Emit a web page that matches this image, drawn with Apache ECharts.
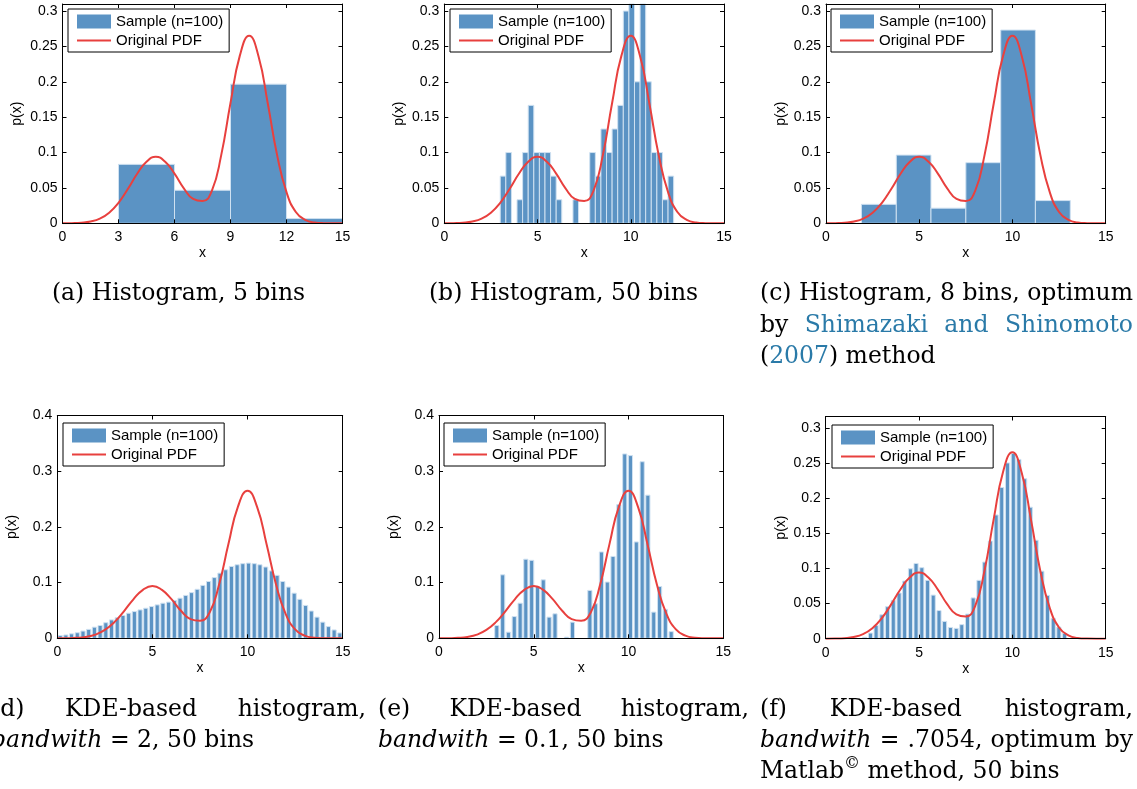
<!DOCTYPE html>
<html>
<head>
<meta charset="utf-8">
<script src="https://cdn.jsdelivr.net/npm/echarts@6/dist/echarts.min.js"></script>
<style>
  html, body { margin: 0; padding: 0; background: #ffffff; }
  #chart { width: 1137px; height: 789px; }
</style>
</head>
<body>
<div id="chart"></div>
<script>
// ---------------- data ----------------
// Original bimodal PDF, sampled along x
const pdfX = [0, 0.5, 1, 1.5, 2, 2.5, 3, 3.5, 4, 4.5, 5, 5.5, 6, 6.5, 7, 7.5,
              8, 8.5, 9, 9.5, 10, 10.5, 11, 11.5, 12, 12.5, 13, 13.5, 14, 14.5, 15];
const pdfY = [0.0000, 0.0002, 0.0008, 0.0025, 0.0066, 0.0150, 0.0290, 0.0485, 0.0700, 0.0870,
              0.0940, 0.0870, 0.0702, 0.0495, 0.0345, 0.0315, 0.0460, 0.0960, 0.1700, 0.2370,
              0.2650, 0.2360, 0.1690, 0.0960, 0.0440, 0.0160, 0.0048, 0.0011, 0.0002, 0.0000, 0.0000];

// (a) histogram, 5 bins
const aEdges = [0, 3, 6, 9, 12, 15];
const aDensity = [0, 0.0833, 0.0467, 0.1967, 0.0067];

// (b) histogram, 50 bins (occupied range)
const bEdges = [3.0, 3.3, 3.6, 3.9, 4.2, 4.5, 4.8, 5.1, 5.4, 5.7, 6.0, 6.3, 6.6, 6.9, 7.2, 7.5,
                7.8, 8.1, 8.4, 8.7, 9.0, 9.3, 9.6, 9.9, 10.2, 10.5, 10.8, 11.1, 11.4, 11.7, 12.0, 12.3];
const bDensity = [0.0667, 0.1000, 0, 0.0333, 0.1000, 0.1667, 0.1000, 0.1000, 0.1000, 0.0667,
                  0.0333, 0, 0, 0.0333, 0, 0, 0.1000, 0.0667, 0.1333, 0.1000,
                  0.1333, 0.1667, 0.3000, 0.3667, 0.2000, 0.3667, 0.2000, 0.1000, 0.1000, 0.0333, 0.0667];

// (c) histogram, optimum bin width
const cEdges = [1.90, 3.77, 5.63, 7.50, 9.37, 11.23, 13.10];
const cDensity = [0.0268, 0.0964, 0.0214, 0.0857, 0.2732, 0.0321];

// (d) KDE-based histogram, bandwidth 2
const dCenters = [0.15, 0.45, 0.75, 1.05, 1.35, 1.65, 1.95, 2.25, 2.55, 2.85,
                  3.15, 3.45, 3.75, 4.05, 4.35, 4.65, 4.95, 5.25, 5.55, 5.85,
                  6.15, 6.45, 6.75, 7.05, 7.35, 7.65, 7.95, 8.25, 8.55, 8.85,
                  9.15, 9.45, 9.75, 10.05, 10.35, 10.65, 10.95, 11.25, 11.55, 11.85,
                  12.15, 12.45, 12.75, 13.05, 13.35, 13.65, 13.95, 14.25, 14.55, 14.85];
const dDensity = [0.005, 0.006, 0.008, 0.010, 0.013, 0.016, 0.020, 0.023, 0.028, 0.033,
                  0.037, 0.041, 0.045, 0.048, 0.051, 0.054, 0.057, 0.060, 0.063, 0.065,
                  0.068, 0.072, 0.077, 0.082, 0.088, 0.095, 0.102, 0.109, 0.117, 0.123,
                  0.129, 0.132, 0.134, 0.135, 0.134, 0.132, 0.128, 0.121, 0.113, 0.102,
                  0.092, 0.081, 0.070, 0.059, 0.049, 0.038, 0.029, 0.021, 0.015, 0.0096];

// (e) KDE-based histogram, bandwidth 0.1
const eCenters = [3.05, 3.36, 3.66, 3.97, 4.28, 4.58, 4.89, 5.20, 5.50, 5.81,
                  6.12, 6.42, 6.73, 7.04, 7.34, 7.65, 7.96, 8.26, 8.57, 8.88,
                  9.18, 9.49, 9.80, 10.10, 10.41, 10.72, 11.02, 11.33, 11.64, 11.94, 12.25];
const eDensity = [0.023, 0.114, 0.011, 0.039, 0.063, 0.142, 0.140, 0.093, 0.105, 0.038,
                  0.044, 0, 0.002, 0.029, 0, 0, 0.086, 0.062, 0.155, 0.101,
                  0.147, 0.240, 0.331, 0.328, 0.173, 0.317, 0.257, 0.047, 0.093, 0.052, 0.012];

// (f) KDE-based histogram, bandwidth .7054
const fCenters = [2.09, 2.40, 2.70, 3.01, 3.31, 3.62, 3.93, 4.23, 4.54, 4.84,
                  5.15, 5.46, 5.76, 6.07, 6.37, 6.68, 6.99, 7.29, 7.60, 7.90,
                  8.21, 8.52, 8.82, 9.13, 9.43, 9.74, 10.05, 10.35, 10.66, 10.96,
                  11.27, 11.58, 11.88, 12.19, 12.49, 12.80];
const fDensity = [0.002, 0.008, 0.019, 0.034, 0.0455, 0.0545, 0.065, 0.082, 0.0995, 0.107,
                  0.101, 0.083, 0.062, 0.040, 0.0246, 0.016, 0.0147, 0.020, 0.035, 0.058,
                  0.083, 0.109, 0.139, 0.176, 0.215, 0.250, 0.2635, 0.255, 0.2275, 0.187,
                  0.140, 0.096, 0.0616, 0.029, 0.0166, 0.0076];

const xTicksA = 3, xTicksOther = 5;

// ---------------- styles ----------------
const BAR_FILL = '#5b93c4';
const BAR_EDGE = '#cfe1f1';
const PDF_RED = '#e8403e';
const AXIS_FONT = 'Liberation Sans';
const CAP_FONT = 'DejaVu Serif';
const CAP_SIZE = 23.5;
const LINK = '#2a7aa8';
const KDE_BAR_W = 0.22;

const SAMPLE = 'Sample (n=100)';
const PDF = 'Original PDF';

const edgeData = (edges, dens) => dens.map((v, i) => [edges[i], edges[i + 1], v]);
const centerData = (centers, dens) => dens.map((v, i) => [centers[i], v]);

const panels = [
  { left: 62.5, top: 4, w: 280, h: 219.3, xint: xTicksA, ymax: 0.31, yint: 0.05, legL: 68, legT: 9,
    bars: edgeData(aEdges, aDensity), kind: 'edge' },
  { left: 444.3, top: 4, w: 279.7, h: 219.3, xint: xTicksOther, ymax: 0.31, yint: 0.05, legL: 450, legT: 9,
    bars: edgeData(bEdges, bDensity), kind: 'edge' },
  { left: 826, top: 4, w: 279.7, h: 219.3, xint: xTicksOther, ymax: 0.31, yint: 0.05, legL: 831, legT: 9,
    bars: edgeData(cEdges, cDensity), kind: 'edge' },
  { left: 57.3, top: 415.5, w: 285.4, h: 222.8, xint: xTicksOther, ymax: 0.4, yint: 0.1, legL: 63, legT: 423,
    bars: centerData(dCenters, dDensity), kind: 'center' },
  { left: 439, top: 415.5, w: 284.3, h: 222.8, xint: xTicksOther, ymax: 0.4, yint: 0.1, legL: 444, legT: 423,
    bars: centerData(eCenters, eDensity), kind: 'center' },
  { left: 825.7, top: 416.5, w: 280, h: 222.2, xint: xTicksOther, ymax: 0.316, yint: 0.05, legL: 832, legT: 425,
    bars: centerData(fCenters, fDensity), kind: 'center' }
];

function barRenderer(kind) {
  return function (params, api) {
    let x0, x1, y;
    if (kind === 'edge') { x0 = api.value(0); x1 = api.value(1); y = api.value(2); }
    else { const c = api.value(0); x0 = c - KDE_BAR_W / 2; x1 = c + KDE_BAR_W / 2; y = api.value(1); }
    if (!(y > 0)) return null;
    const p0 = api.coord([x0, y]);
    const p1 = api.coord([x1, 0]);
    const cs = params.coordSys;
    const shape = echarts.graphic.clipRectByRect(
      { x: p0[0], y: p0[1], width: p1[0] - p0[0], height: p1[1] - p0[1] },
      { x: cs.x, y: cs.y, width: cs.width, height: cs.height });
    if (!shape) return null;
    return { type: 'rect', shape: shape, style: { fill: BAR_FILL, stroke: BAR_EDGE, lineWidth: 1 } };
  };
}

const tickFmt = (step) => (v) => {
  const r = v / step;
  if (Math.abs(r - Math.round(r)) > 1e-6) return '';
  return String(+v.toFixed(2));
};

const grids = [], xAxes = [], yAxes = [], series = [], legends = [];
const lineStyleBlack = { color: '#000', width: 1 };
const tick = { show: true, inside: true, length: 4, lineStyle: lineStyleBlack };
const labelStyle = { color: '#000', fontFamily: AXIS_FONT, fontSize: 14 };
const hidden = 'rgba(0,0,0,0)';

panels.forEach((p, k) => {
  grids.push({ left: p.left, top: p.top, width: p.w, height: p.h, containLabel: false, outerBoundsMode: 'none' });

  xAxes.push({
    type: 'value', gridIndex: k, position: 'bottom', min: 0, max: 15, interval: p.xint, z: 4,
    axisLine: { show: true, onZero: false, lineStyle: lineStyleBlack },
    axisTick: tick, splitLine: { show: false },
    axisLabel: Object.assign({ margin: 7 }, labelStyle),
    name: 'x', nameLocation: 'middle', nameGap: 23, nameMoveOverlap: false,
    nameTextStyle: labelStyle
  });
  xAxes.push({
    type: 'value', gridIndex: k, position: 'top', min: 0, max: 15, interval: p.xint, z: 4,
    axisLine: { show: true, onZero: false, lineStyle: lineStyleBlack },
    axisTick: tick, splitLine: { show: false }, axisLabel: { show: false }
  });
  yAxes.push({
    type: 'value', gridIndex: k, position: 'left', min: 0, max: p.ymax, interval: p.yint, z: 4,
    axisLine: { show: true, onZero: false, lineStyle: lineStyleBlack },
    axisTick: tick, splitLine: { show: false },
    axisLabel: Object.assign({ margin: 5, formatter: tickFmt(p.yint) }, labelStyle),
    name: 'p(x)', nameLocation: 'middle', nameGap: 38, nameMoveOverlap: false,
    nameTextStyle: labelStyle
  });
  yAxes.push({
    type: 'value', gridIndex: k, position: 'right', min: 0, max: p.ymax, interval: p.yint, z: 4,
    axisLine: { show: true, onZero: false, lineStyle: lineStyleBlack },
    axisTick: tick, splitLine: { show: false }, axisLabel: { show: false }
  });

  series.push({
    type: 'custom', name: SAMPLE, xAxisIndex: 2 * k, yAxisIndex: 2 * k, z: 2,
    renderItem: barRenderer(p.kind), data: p.bars, silent: true,
    itemStyle: { color: BAR_FILL }
  });
  series.push({
    type: 'line', name: PDF, xAxisIndex: 2 * k, yAxisIndex: 2 * k, z: 3,
    data: pdfX.map((x, i) => [x, pdfY[i]]), smooth: true, symbol: 'none', silent: true,
    lineStyle: { color: PDF_RED, width: 2 }, itemStyle: { color: PDF_RED }
  });

  legends.push({
    left: p.legL, top: p.legT, orient: 'vertical', selectedMode: false,
    data: [
      { name: SAMPLE, icon: 'rect' },
      { name: PDF, itemStyle: { color: hidden, borderColor: hidden, borderWidth: 0, opacity: 0 },
        lineStyle: { color: PDF_RED, width: 2, opacity: 1 } }
    ],
    itemWidth: 34, itemHeight: 14, itemGap: 4, padding: [5, 6, 4, 8],
    borderColor: '#000', borderWidth: 1, borderRadius: 0, backgroundColor: '#fff',
    textStyle: { color: '#000', fontFamily: AXIS_FONT, fontSize: 15 }
  });
});

// ---------------- captions ----------------
const COLS = { 1: [-9, 366], 2: [378, 749], 3: [760, 1133] };
const I = (t) => ({ t: t, it: true });
const Lk = (t) => ({ t: t, c: LINK });
const SUP = (t) => ({ t: t, sz: 16, dy: -8 });

const captionLines = [
  { col: 1, y: 293, mode: 'center', words: ['(a)', 'Histogram,', '5', 'bins'] },
  { col: 2, y: 293, mode: 'center', words: ['(b)', 'Histogram,', '50', 'bins'] },
  { col: 3, y: 293, mode: 'justify', words: ['(c)', 'Histogram,', '8', 'bins,', 'optimum'] },
  { col: 3, y: 324.5, mode: 'justify', words: ['by', [Lk('Shimazaki')], [Lk('and')], [Lk('Shinomoto')]] },
  { col: 3, y: 356, mode: 'left', words: [['(', Lk('2007'), ')'], 'method'] },
  { col: 1, y: 709, mode: 'justify', words: ['(d)', 'KDE-based', 'histogram,'] },
  { col: 1, y: 740, mode: 'left', words: [[I('bandwith')], '=', '2,', '50', 'bins'] },
  { col: 2, y: 709, mode: 'justify', words: ['(e)', 'KDE-based', 'histogram,'] },
  { col: 2, y: 740, mode: 'left', words: [[I('bandwith')], '=', '0.1,', '50', 'bins'] },
  { col: 3, y: 709, mode: 'justify', words: ['(f)', 'KDE-based', 'histogram,'] },
  { col: 3, y: 740, mode: 'justify', words: [[I('bandwith')], '=', '.7054,', 'optimum', 'by'] },
  { col: 3, y: 771, mode: 'left', words: [['Matlab', SUP('\u00A9')], 'method,', '50', 'bins'] }
];

const mctx = document.createElement('canvas').getContext('2d');
function fontOf(p) { return (p.it ? 'italic ' : '') + (p.sz || CAP_SIZE) + 'px "' + CAP_FONT + '"'; }
function measure(p) { mctx.font = fontOf(p); return mctx.measureText(p.t).width; }

const captionEls = [];
captionLines.forEach((line) => {
  const [cx0, cx1] = COLS[line.col];
  const words = line.words.map((w) => (Array.isArray(w) ? w : [w]).map((p) => (typeof p === 'string' ? { t: p } : p)));
  const widths = words.map((w) => w.reduce((s, p) => s + measure(p), 0));
  const total = widths.reduce((a, b) => a + b, 0);
  const space = measure({ t: ' ' });
  let gap = space, x;
  if (line.mode === 'justify') { gap = (cx1 - cx0 - total) / (words.length - 1); x = cx0; }
  else if (line.mode === 'center') { x = (cx0 + cx1) / 2 - (total + space * (words.length - 1)) / 2; }
  else { x = cx0; }
  words.forEach((w) => {
    w.forEach((p) => {
      captionEls.push({
        type: 'text', x: x, y: line.y + 1 + (p.dy || 0), silent: true,
        style: {
          text: p.t, fill: p.c || '#000', fontFamily: CAP_FONT, fontSize: p.sz || CAP_SIZE,
          fontStyle: p.it ? 'italic' : 'normal',
          align: 'left', verticalAlign: 'middle', textAlign: 'left', textVerticalAlign: 'middle'
        }
      });
      x += measure(p);
    });
    x += gap;
  });
});

const chart = echarts.init(document.getElementById('chart'), null, { renderer: 'canvas' });
chart.setOption({
  animation: false,
  backgroundColor: '#ffffff',
  grid: grids,
  xAxis: xAxes,
  yAxis: yAxes,
  legend: legends,
  series: series,
  graphic: { elements: captionEls }
});
</script>
</body>
</html>
